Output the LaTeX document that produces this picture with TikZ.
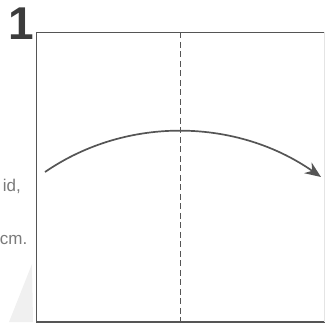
\documentclass[tikz,border=0pt]{standalone}
\usepackage{fontspec}
\setmainfont{Liberation Sans}
\usetikzlibrary{arrows.meta, positioning}
\definecolor{ogline}{HTML}{555555}
\definecolor{ogtext}{HTML}{7A7A7A}
\definecolor{ognum}{HTML}{3C3C3C}
\definecolor{ogshade}{HTML}{F0F0F0}
\definecolor{ogfaint}{HTML}{E4E4E4}

\begin{document}
\begin{tikzpicture}[
  x=1pt,y=-1pt,
  paper/.style={rectangle, minimum width=288pt, minimum height=289pt, inner sep=0pt},
  edge/.style={draw=ogline, line width=1.6pt},
  fold/.style={draw=ogline, line width=1.8pt, dash pattern=on 6pt off 3.5pt},
  turn/.style={draw=ogline, line width=1.7pt, -{Stealth[length=16pt, width=13pt]}},
  hint/.style={font=\fontsize{17}{20}\selectfont, text=ogtext, anchor=east, inner sep=0pt},
]
\useasboundingbox (0,0) rectangle (327,322);
% shadow of the previous page
\fill[ogshade] (32,264) -- (33,322) -- (9,322) -- cycle;
\node[paper] (sheet) at (180.5,177) {};
\draw[edge] (sheet.north east) -- (sheet.north west) -- (sheet.south west) -- (sheet.south east);
\draw[ogfaint, line width=1pt] (sheet.north east) -- (sheet.south east);
\node[font=\fontsize{46}{46}\selectfont\bfseries, text=ognum, inner sep=0pt, anchor=north east] (step) at (34,8) {1};
\node[hint] (textA) at (21,186) {id,};
\node[hint] (textB) at (27.5,240) {cm.};
\coordinate (from) at (45,172);
\coordinate (to) at (321,177);
\draw[fold] (sheet.north) -- (sheet.south);
\draw[turn] (from) .. controls (128,115) and (238,119) .. (to);
\end{tikzpicture}
\end{document}
